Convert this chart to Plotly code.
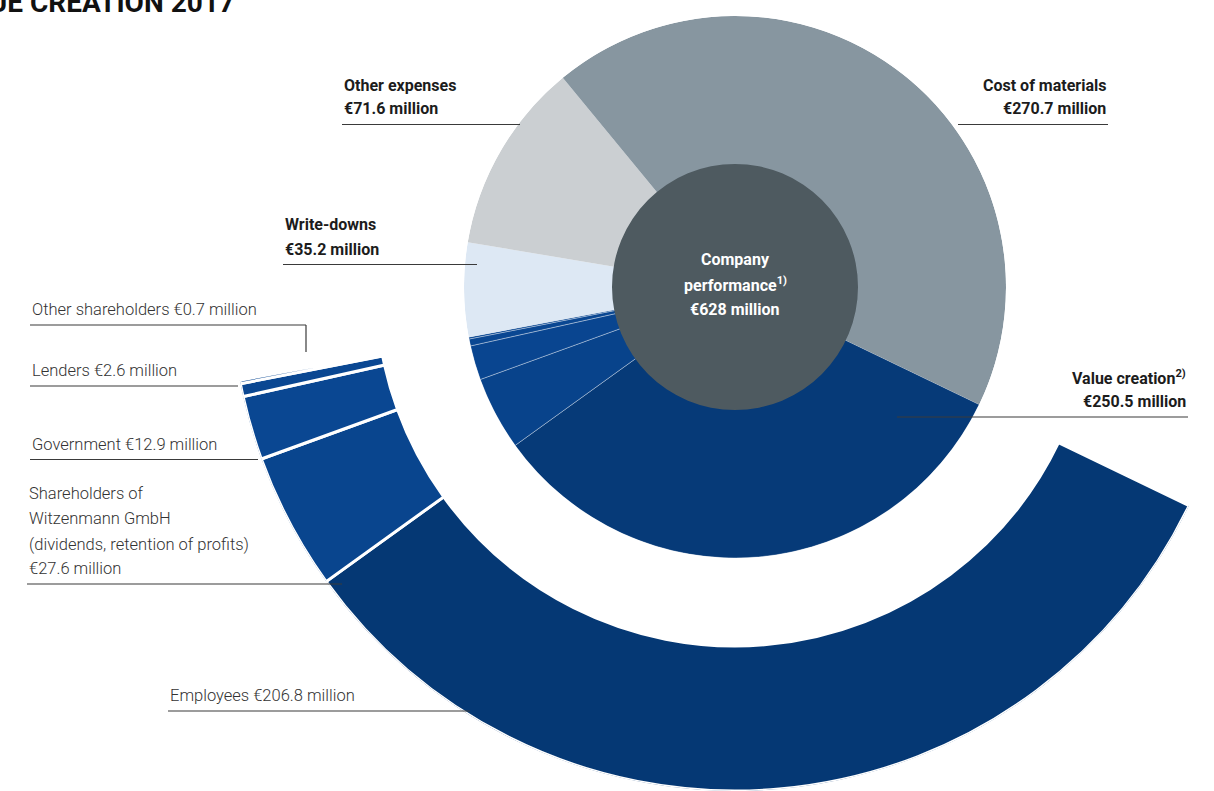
import math
import plotly.graph_objects as go

W, H = 1214, 791

# Figures in EUR million
title = "VALUE CREATION 2017"
company_performance = 628
pie_names = ["Write-downs", "Other expenses", "Cost of materials"]
pie_values = [35.2, 71.6, 270.7]
value_creation = 250.5
vc_names = ["Employees", "Shareholders of Witzenmann GmbH", "Government", "Lenders", "Other shareholders"]
vc_values = [206.8, 27.6, 12.9, 2.6, 0.7]

# Styling
vc_pie_colors = ["#063a78", "#08438b", "#094590", "#0a4792", "#0a4792"]
pie_colors = ["#dde8f4", "#cbcfd2", "#8796a0"]
ring_colors = ["#053874", "#09458e", "#0a4792", "#0a4792", "#0a4792"]
center_color = "#4e5a60"

FONT = "Roboto, Lato, sans-serif"

# geometry (pixels)
CX, CY = 735, 287
R_PIE, R_CENTER = 271, 123
R_IN, R_OUT = 359, 504
ROTATION = -25.7


def px(x):
    return x / W


def py(y):
    return 1 - y / H


# angular scale shared by pie and outer ring
slice_values = vc_values + pie_values
deg = 360 / sum(slice_values)


def arcs(values):
    widths, mids, acc = [], [], 0.0
    for v in values:
        w = v * deg
        widths.append(w)
        mids.append(acc + w / 2)
        acc += w
    return mids, widths


fig = go.Figure()

# pie: value creation parts followed by the cost items
mids, widths = arcs(slice_values)
fig.add_trace(go.Barpolar(
    r=[R_PIE] * len(slice_values), theta=mids, width=widths, base=0,
    marker=dict(color=vc_pie_colors + pie_colors,
                line=dict(color=["rgba(255,255,255,0.35)"] * len(vc_values) + ["rgba(0,0,0,0)"] * len(pie_values),
                          width=[1] * len(vc_values) + [0] * len(pie_values))),
    subplot="polar", hoverinfo="skip", showlegend=False))

# company performance disc
fig.add_trace(go.Barpolar(
    r=[R_CENTER], theta=[180], width=[360 * company_performance / company_performance], base=0,
    marker=dict(color=center_color, line=dict(width=0)),
    subplot="polar", hoverinfo="skip", showlegend=False))

# outer ring: distribution of value creation
rmids, rwidths = arcs(vc_values)
fig.add_trace(go.Barpolar(
    r=[R_OUT - R_IN] * len(vc_values), theta=rmids, width=rwidths, base=R_IN,
    marker=dict(color=ring_colors, line=dict(color="white", width=3)),
    subplot="polar2", hoverinfo="skip", showlegend=False))

ang = dict(direction="clockwise", rotation=ROTATION, visible=False, showgrid=False,
           showline=False, showticklabels=False, ticks="")

# ring sector (math angles, counterclockwise)
sector = [185, 340]
x0 = math.cos(math.radians(sector[0]))
x1 = math.cos(math.radians(sector[1]))

fig.update_layout(
    width=W, height=H, margin=dict(l=0, r=0, t=0, b=0),
    paper_bgcolor="white", plot_bgcolor="white",
    polar=dict(domain=dict(x=[px(CX - R_PIE), px(CX + R_PIE)], y=[py(CY + R_PIE), py(CY - R_PIE)]),
               bgcolor="rgba(0,0,0,0)", angularaxis=ang,
               radialaxis=dict(range=[0, R_PIE], visible=False, showgrid=False)),
    polar2=dict(domain=dict(x=[px(CX + x0 * R_OUT), min(1, px(CX + x1 * R_OUT))], y=[max(0, py(CY + R_OUT)), py(CY)]),
                sector=sector, bgcolor="rgba(0,0,0,0)", angularaxis=ang,
                radialaxis=dict(range=[0, R_OUT], visible=False, showgrid=False)),
)

annotations = []
shapes = []


def text(x, y, s, anchor="left", size=16, bold=True, color="#1c1c1c"):
    annotations.append(dict(
        x=px(x), y=py(y), xref="paper", yref="paper", text=s, showarrow=False,
        xanchor=anchor, yanchor="middle",
        font=dict(family=FONT, size=size, color=color, weight=700 if bold else 300)))


def line(xa, ya, xb, yb, color="#3a3a3a", width=1.2):
    shapes.append(dict(type="line", xref="paper", yref="paper",
                       x0=px(xa), y0=py(ya), x1=px(xb), y1=py(yb),
                       line=dict(color=color, width=width)))


def money(v):
    return f"€{v:g} million" if v == int(v) else f"€{v:.1f} million"


# title (runs off the top-left edge)
annotations.append(dict(x=px(237), y=py(13), xref="paper", yref="paper", text=title, showarrow=False,
                        xanchor="right", yanchor="bottom", yshift=-8,
                        font=dict(family=FONT, size=28, color="#111111", weight=700)))

# cost side labels
text(342, 85, pie_names[1])
text(342, 109, money(pie_values[1]))
line(342, 124.5, 520, 124.5)

text(1108, 85, pie_names[2], anchor="right")
text(1108, 109, money(pie_values[2]), anchor="right")
line(958, 124.5, 1108, 124.5)

text(283, 225, pie_names[0])
text(283, 249, money(pie_values[0]))
line(283, 264.5, 477, 264.5)

text(1188, 377, "Value creation<sup>2)</sup>", anchor="right")
text(1188, 401, money(value_creation), anchor="right")
line(897, 417, 1188, 417)

# centre disc
text(CX, 259, "Company", anchor="center", color="white")
text(CX, 284, "performance<sup>1)</sup>", anchor="center", color="white")
text(CX, 309, money(company_performance), anchor="center", color="white")

# distribution labels
LC = "#333333"
LS = 16.5
text(30, 309, f"{vc_names[4]} {money(vc_values[4])}", bold=False, color=LC, size=LS)
line(30, 325, 306, 325)
line(306, 325, 306, 352)

text(30, 370, f"{vc_names[3]} {money(vc_values[3])}", bold=False, color=LC, size=LS)
line(30, 386, 238, 386)

text(30, 444, f"{vc_names[2]} {money(vc_values[2])}", bold=False, color=LC, size=LS)
line(30, 459.5, 258, 459.5)

text(27, 493, "Shareholders of", bold=False, color=LC, size=LS)
text(27, 518, "Witzenmann GmbH", bold=False, color=LC, size=LS)
text(27, 544, "(dividends, retention of profits)", bold=False, color=LC, size=LS)
text(27, 568, money(vc_values[1]), bold=False, color=LC, size=LS)
line(27, 584, 342, 584)

text(168, 695, f"{vc_names[0]} {money(vc_values[0])}", bold=False, color=LC, size=LS)
line(168, 711, 470, 711)

fig.update_layout(annotations=annotations, shapes=shapes)

fig.write_html("out.html")
